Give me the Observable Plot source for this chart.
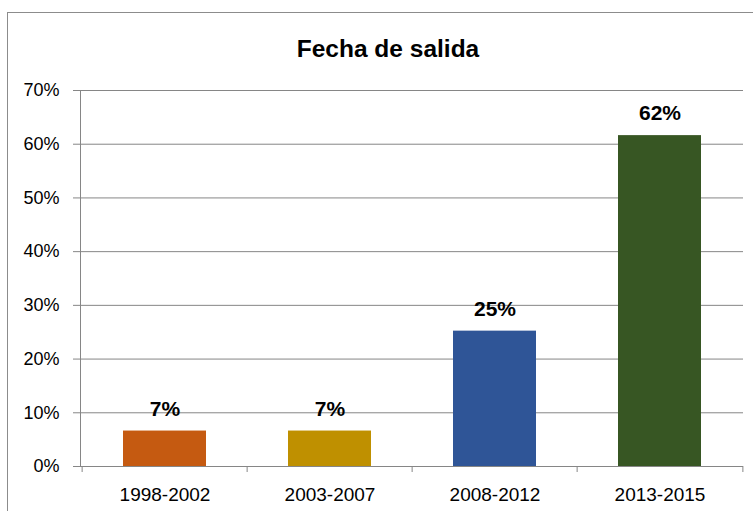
<!DOCTYPE html>
<html>
<head>
<meta charset="utf-8">
<script src="https://cdn.jsdelivr.net/npm/d3@7"></script>
<script src="https://cdn.jsdelivr.net/npm/@observablehq/plot@0.6"></script>
<style>
  html, body { margin: 0; padding: 0; background: #fff; }
  #wrap { position: relative; width: 753px; height: 511px; overflow: hidden; font-family: "Liberation Sans", Arial, sans-serif; }
  #frame { position: absolute; left: 7px; top: 12px; width: 800px; height: 600px; border: 1px solid #8c8c8c; box-sizing: border-box; }
  #title { position: absolute; left: 0; width: 776px; top: 37px; line-height: 24px; text-align: center; font-weight: bold; font-size: 24.5px; color: #000; }
  #chart { position: absolute; left: 0; top: 0; }
</style>
</head>
<body>
<div id="wrap">
  <div id="frame"></div>
  <div id="title">Fecha de salida</div>
  <div id="chart"></div>
</div>
<script>
const categories = ["1998-2002", "2003-2007", "2008-2012", "2013-2015"];
const values = [0.066, 0.066, 0.252, 0.616];
const labels = ["7%", "7%", "25%", "62%"];
const colors = ["#C55A11", "#BF9000", "#2F5597", "#375623"];
const yTicks = [0, 0.1, 0.2, 0.3, 0.4, 0.5, 0.6, 0.7];

const data = categories.map((c, i) => ({cat: c, value: values[i], label: labels[i], color: colors[i]}));

const W = 753, H = 511, mL = 80, mR = 10;
const step = (W - mL - mR) / categories.length;

const plot = Plot.plot({
  width: W,
  height: H,
  marginLeft: mL,
  marginRight: mR,
  marginTop: 90,
  marginBottom: 45,
  style: {fontFamily: "'Liberation Sans', Arial, sans-serif", fontSize: "18px", color: "#000", background: "transparent"},
  x: {domain: categories, paddingInner: 0.5, paddingOuter: 0.25, label: null},
  y: {domain: [0, 0.7], label: null},
  color: {type: "identity"},
  marks: [
    Plot.gridY(yTicks, {stroke: "#868686", strokeOpacity: 1, strokeWidth: 1}),
    Plot.axisY(yTicks, {tickFormat: d => Math.round(d * 100) + "%", tickSize: 7, tickPadding: 14, stroke: "#868686", fontSize: 18, label: null}),
    Plot.axisX({tickSize: 0, tickPadding: 21, fontSize: 19, label: null}),
    Plot.axisX(categories, {text: null, tickSize: 6, dx: -step / 2, stroke: "#868686", label: null}),
    Plot.axisX([categories[categories.length - 1]], {text: null, tickSize: 6, dx: step / 2, stroke: "#868686", label: null}),
    Plot.barY(data, {x: "cat", y: "value", fill: "color"}),
    Plot.frame({anchor: "left", stroke: "#868686"}),
    Plot.ruleY([0], {stroke: "#868686"}),
    Plot.text(data, {x: "cat", y: "value", text: "label", dy: -22, fontWeight: "bold", fontSize: 21, fill: "#000"})
  ]
});
document.getElementById("chart").appendChild(plot);
</script>
</body>
</html>
